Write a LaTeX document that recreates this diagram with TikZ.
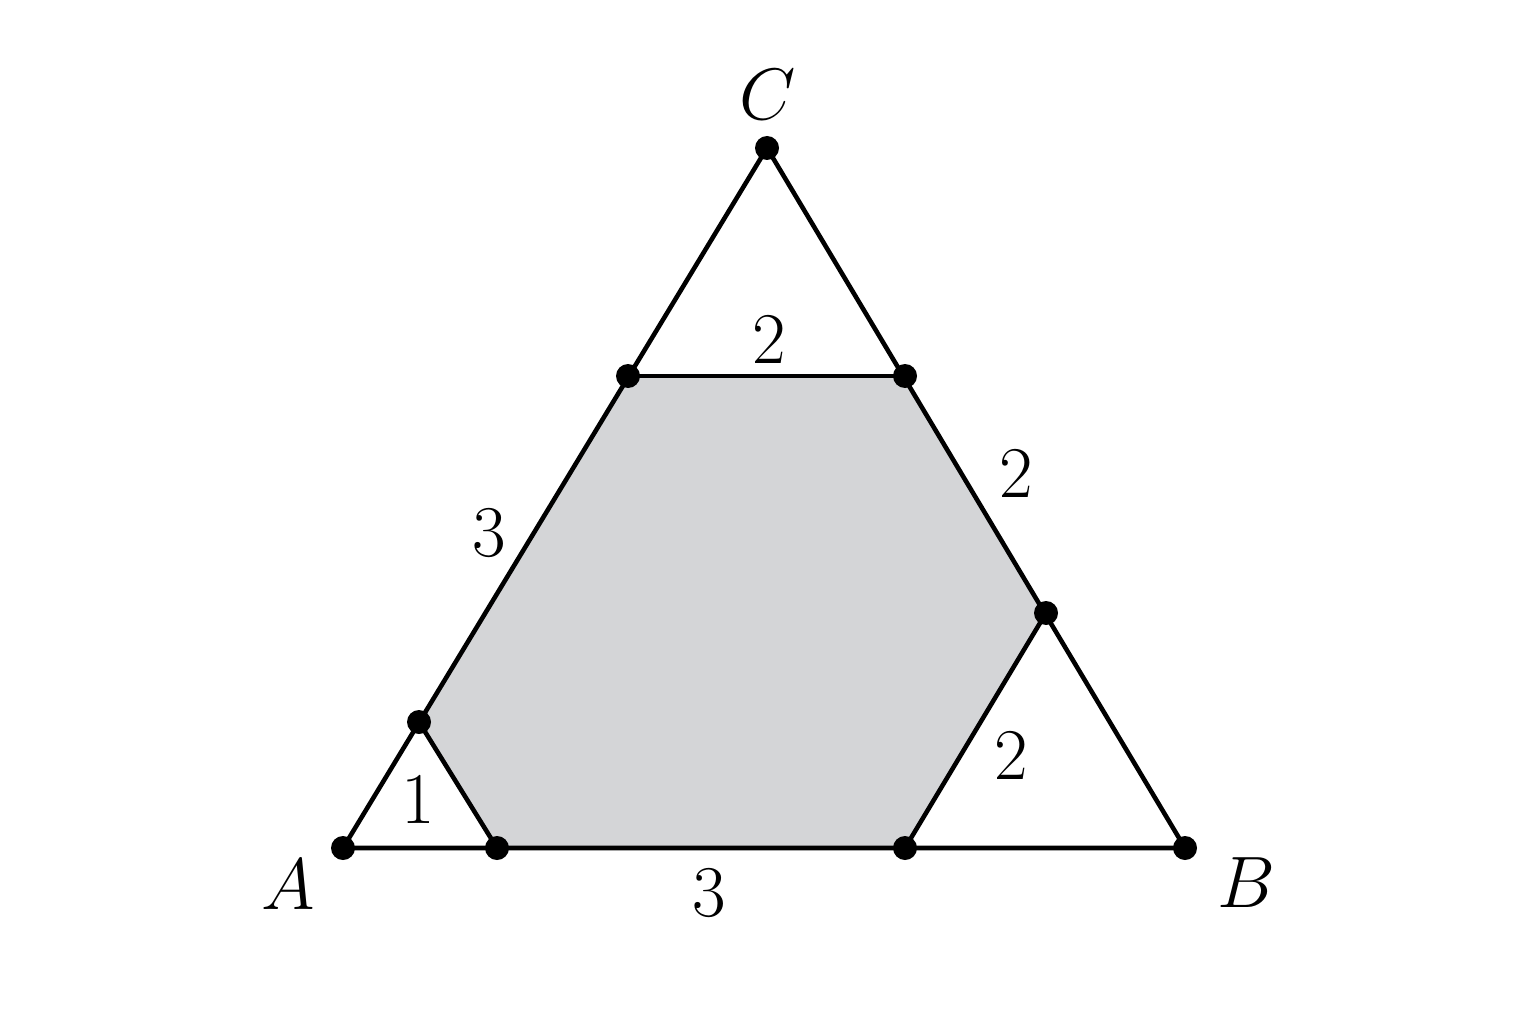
\documentclass[tikz,border=0pt]{standalone}
\usepackage{amsfonts,amssymb}
\usepackage{tikz}

\definecolor{hexgray}{RGB}{212,213,215}

\begin{document}
\begin{tikzpicture}
    \tikzstyle{side}=[line width=1.3pt, line join=round]
    \tikzstyle{lbl}=[font=\fontsize{22}{26}\selectfont]
    \useasboundingbox (0,0) rectangle (15.36,10.24);
    \coordinate (A) at (3.43,1.76);
    \coordinate (B) at (11.85,1.76);
    \coordinate (C) at (7.67,8.76);
    \coordinate (P1) at (4.97,1.76);
    \coordinate (P2) at (9.05,1.76);
    \coordinate (Q1) at (4.19,3.02);
    \coordinate (Q2) at (6.28,6.48);
    \coordinate (R1) at (10.46,4.11);
    \coordinate (R2) at (9.05,6.48);
    \fill[hexgray] (P1) -- (P2) -- (R1) -- (R2) -- (Q2) -- (Q1) -- cycle;
    \draw[side] (A) -- (B) -- (C) -- cycle;
    \draw[side] (Q1) -- (P1);
    \draw[side] (P2) -- (R1);
    \draw[side] (Q2) -- (R2);
    \foreach \p in {A,B,C,P1,P2,Q1,Q2,R1,R2}
      \fill (\p) circle (0.12);
    \node[lbl] (labA) at (2.88,1.39) {$A$};
    \node[lbl] (labB) at (12.46,1.41) {$B$};
    \node[lbl] (labC) at (7.68,9.29) {$C$};
    \node[lbl] (one) at (4.18,2.24) {$1$};
    \node[lbl] (leftthree) at (4.89,4.91) {$3$};
    \node[lbl] (toptwo) at (7.69,6.84) {$2$};
    \node[lbl] (righttwo) at (10.16,5.50) {$2$};
    \node[lbl] (lowtwo) at (10.11,2.68) {$2$};
    \node[lbl] (basethree) at (7.09,1.31) {$3$};
\end{tikzpicture}
\end{document}
